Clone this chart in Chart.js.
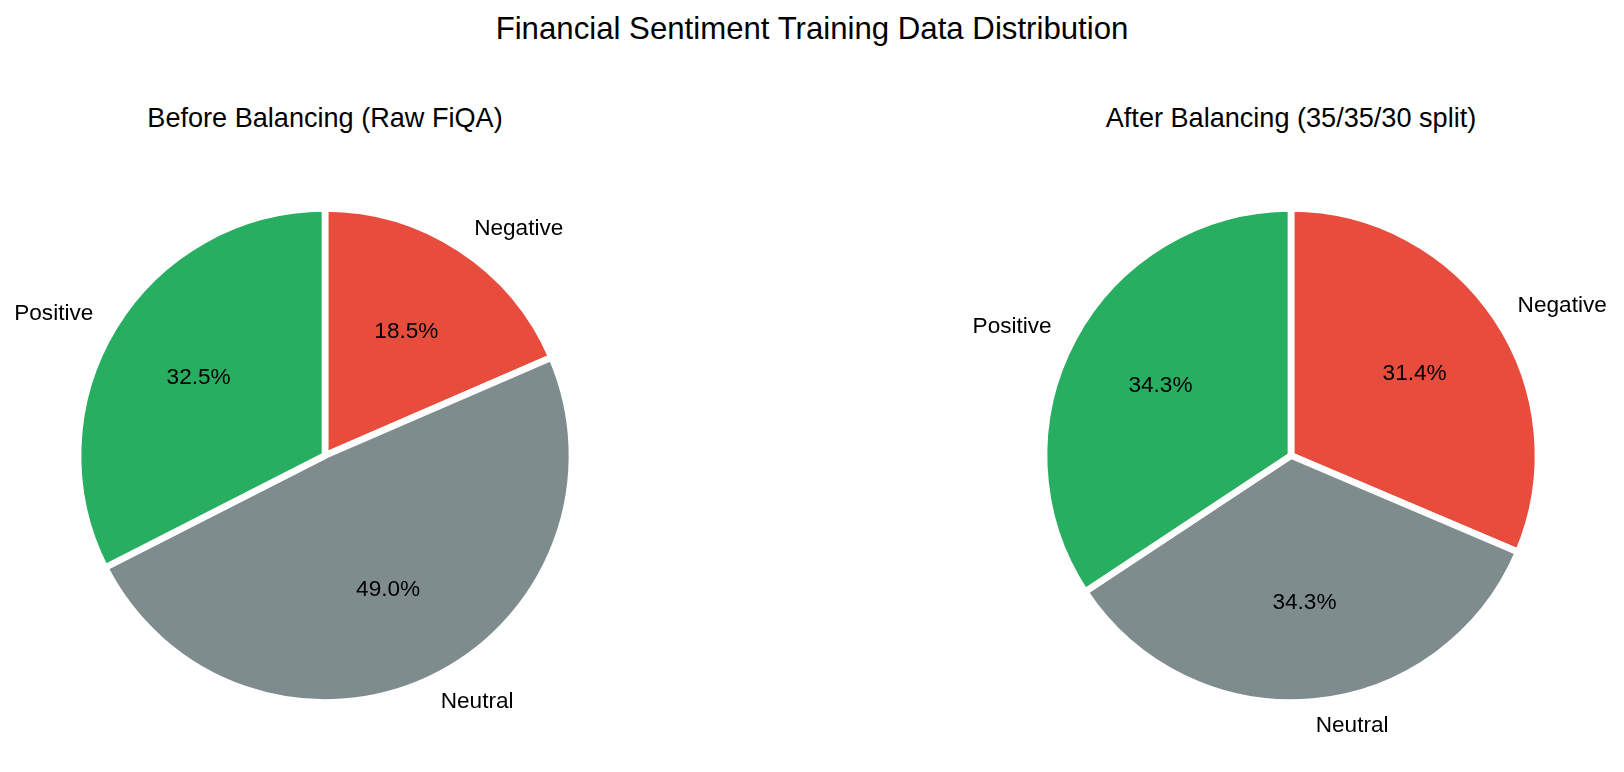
<!DOCTYPE html>
<html>
<head>
<meta charset="utf-8">
<title>Financial Sentiment Training Data Distribution</title>
<script src="https://cdn.jsdelivr.net/npm/chart.js@4.4.0/dist/chart.umd.min.js"></script>
<style>
  body {
    margin: 0;
    width: 1624px;
    height: 772px;
    background: #fff;
    position: relative;
    overflow: hidden;
    font-family: "Liberation Sans", Arial, sans-serif;
  }
  .txt {
    position: absolute;
    white-space: nowrap;
    color: #000;
    line-height: 1;
    transform: translateX(-50%);
  }
  #title { left: 812px; top: 13px; font-size: 31.2px; }
  .sub { top: 103.6px; font-size: 27.1px; }
  .box { position: absolute; top: 0; width: 650px; height: 772px; }
</style>
</head>
<body>

<div id="title" class="txt">Financial Sentiment Training Data Distribution</div>
<div class="txt sub" style="left:325px">Before Balancing (Raw FiQA)</div>
<div class="txt sub" style="left:1291px">After Balancing (35/35/30 split)</div>

<div class="box" style="left:0"><canvas id="before"></canvas></div>
<div class="box" style="left:966px"><canvas id="after"></canvas></div>

<script>
// category order as listed in the source chart
const categories = ['Positive', 'Neutral', 'Negative'];
// share of samples (%) per category
const beforePct = [32.5, 49.0, 18.5];
const afterPct = [34.3, 34.3, 31.4];

const colors = {
  Positive: '#27ae60',
  Neutral: '#7f8c8d',
  Negative: '#e74c3c'
};

const FONT = '"Liberation Sans", Arial, sans-serif';

// category names outside the pie, percentages inside (like matplotlib autopct)
const sliceText = {
  id: 'sliceText',
  afterDatasetsDraw(chart) {
    const ctx = chart.ctx;
    const meta = chart.getDatasetMeta(0);
    const values = chart.data.datasets[0].data;
    const total = values.reduce((a, b) => a + b, 0);

    ctx.save();
    ctx.fillStyle = '#000';
    ctx.font = '22.6px ' + FONT;
    ctx.textBaseline = 'middle';

    meta.data.forEach((arc, i) => {
      const p = arc.getProps(['x', 'y', 'startAngle', 'endAngle', 'outerRadius'], true);
      const mid = (p.startAngle + p.endAngle) / 2;
      const c = Math.cos(mid), s = Math.sin(mid);

      // label
      ctx.textAlign = c > 0 ? 'left' : 'right';
      ctx.fillText(chart.data.labels[i], p.x + 1.1 * p.outerRadius * c, p.y + 1.1 * p.outerRadius * s);

      // percentage
      ctx.textAlign = 'center';
      const pct = (values[i] / total * 100).toFixed(1) + '%';
      ctx.fillText(pct, p.x + 0.6 * p.outerRadius * c, p.y + 0.6 * p.outerRadius * s);
    });
    ctx.restore();
  }
};

function makePie(id, values) {
  // matplotlib draws counter-clockwise from the top, Chart.js clockwise -> reverse
  const labels = categories.slice().reverse();
  const data = values.slice().reverse();

  const ctx = document.getElementById(id).getContext('2d');
  return new Chart(ctx, {
    type: 'pie',
    data: {
      labels: labels,
      datasets: [{
        data: data,
        backgroundColor: labels.map(l => colors[l]),
        borderColor: '#ffffff',
        borderWidth: 6.7,
        hoverOffset: 0
      }]
    },
    options: {
      responsive: true,
      maintainAspectRatio: false,
      animation: false,
      radius: 247,
      rotation: 0,
      layout: { padding: { top: 139, bottom: 0, left: 0, right: 0 } },
      events: [],
      plugins: {
        legend: { display: false },
        tooltip: { enabled: false },
        title: { display: false }
      }
    },
    plugins: [sliceText]
  });
}

makePie('before', beforePct);
makePie('after', afterPct);
</script>
</body>
</html>
